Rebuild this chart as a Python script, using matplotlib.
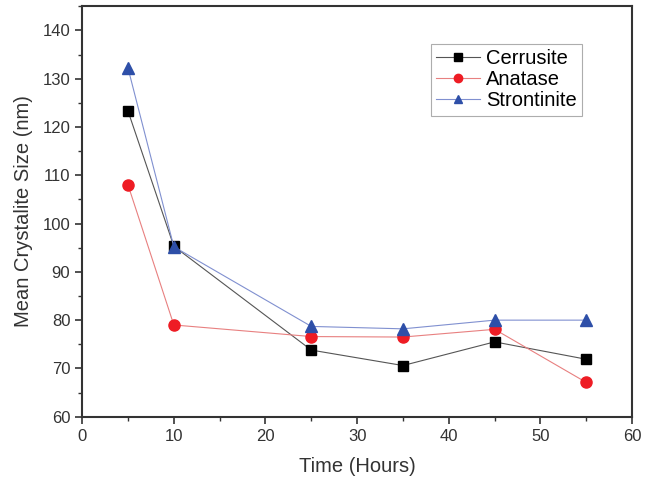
import matplotlib
matplotlib.use("Agg")
import matplotlib.pyplot as plt
from matplotlib.ticker import MultipleLocator

plt.rcParams['font.family'] = ['Liberation Sans', 'DejaVu Sans']

time = [5, 10, 25, 35, 45, 55]
cerrusite = [123.3, 95.3, 73.8, 70.6, 75.5, 71.9]
anatase = [108.0, 79.0, 76.6, 76.5, 78.1, 67.1]
strontinite = [132.2, 95.2, 78.7, 78.2, 80.0, 80.0]

fig = plt.figure(figsize=(6.47, 4.79), dpi=100)
ax = fig.add_axes([0.127, 0.130, 0.850, 0.857])

ax.plot(time, cerrusite, '-', color='#555555', lw=0.8, marker='s', ms=7,
        mfc='black', mec='black', label='Cerrusite')
ax.plot(time, anatase, '-', color='#e88080', lw=0.8, marker='o', ms=8,
        mfc='#ee1c24', mec='#ee1c24', label='Anatase')
ax.plot(time, strontinite, '-', color='#8090d0', lw=0.8, marker='^', ms=8.5,
        mfc='#2e4fa8', mec='#2e4fa8', label='Strontinite')

ax.set_xlim(0, 60)
ax.set_ylim(60, 145)
ax.xaxis.set_major_locator(MultipleLocator(10))
ax.xaxis.set_minor_locator(MultipleLocator(5))
ax.yaxis.set_major_locator(MultipleLocator(10))
ax.yaxis.set_minor_locator(MultipleLocator(5))
ax.tick_params(which='major', direction='out', length=5, width=1.2, labelsize=12, colors='#333333')
ax.tick_params(which='minor', direction='out', length=3, width=1.0, colors='#333333')
for s in ax.spines.values():
    s.set_linewidth(1.5)
    s.set_color('#333333')

ax.set_xlabel('Time (Hours)', fontsize=14.5, color='#333333', labelpad=10)
ax.set_ylabel('Mean Crystalite Size (nm)', fontsize=14.5, color='#333333', labelpad=7)

leg = ax.legend(loc='upper right', bbox_to_anchor=(0.909, 0.907), borderaxespad=0,
                fontsize=14.5, markerscale=0.75,
                fancybox=False, edgecolor='#999999', borderpad=0.25,
                handlelength=2.2, handletextpad=0.3, labelspacing=0.1)
leg.get_frame().set_linewidth(0.8)

fig.savefig('out.png', dpi=100)
